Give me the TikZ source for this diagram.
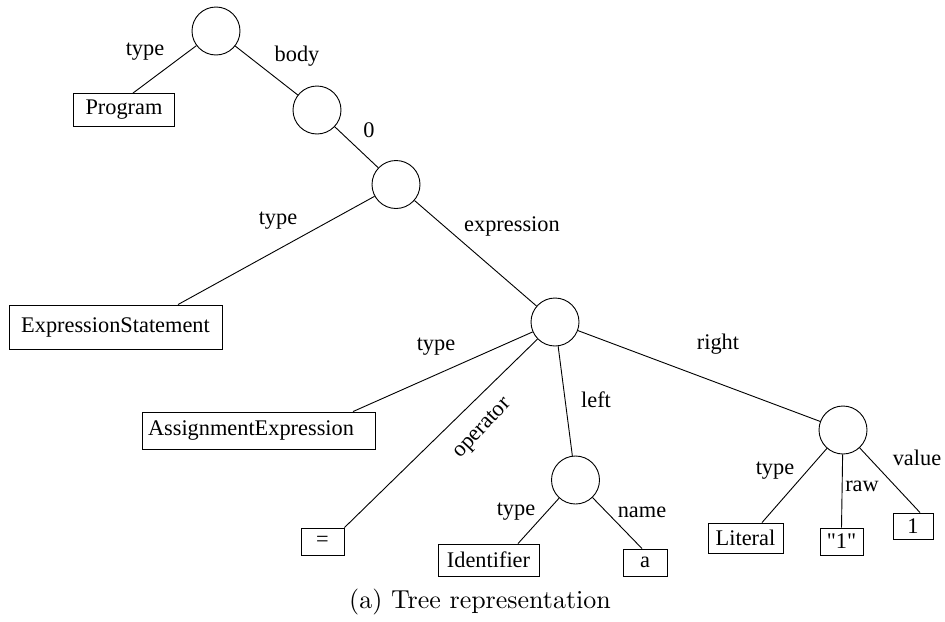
\documentclass[tikz,border=0pt]{standalone}
\usepackage{fontspec}
\newfontfamily\tnr{Liberation Serif}
\begin{document}
\begin{tikzpicture}[x=0.385pt,y=-0.385pt, line width=0.35pt,
  circ/.style={draw, circle, minimum size=48*0.385pt, inner sep=0pt},
  box/.style n args={2}{draw, minimum width=#1*0.385pt, minimum height=#2*0.385pt, inner sep=0pt, font=\tnr\fontsize{8.6}{10}\selectfont},
  lab/.style={inner sep=0pt, font=\tnr\fontsize{8.6}{10}\selectfont}]
\useasboundingbox (0,0) rectangle (945,621);
% circles
\node[circ] (c1) at (216,31) {};
\node[circ] (c2) at (317,110) {};
\node[circ] (c3) at (396,184.5) {};
\node[circ] (c4) at (555,322) {};
\node[circ] (c5) at (575.5,480) {};
\node[circ] (c6) at (843,430) {};
% boxes
\node[box={101}{33}] (prog) at (124,110) {Program};
\node[box={213}{44}] (es) at (115.5,327) {ExpressionStatement};
\node[draw, inner sep=0pt, inner xsep=6*0.385pt, text width=221*0.385pt, align=left, minimum height=37*0.385pt, font=\tnr\fontsize{8.6}{10}\selectfont] (ae) at (258.5,430.5) {AssignmentExpression};
\node[box={43}{27}] (eq) at (322.5,541.5) {=};
\node[box={101}{32}] (id) at (488.5,560) {Identifier};
\node[box={44}{27}] (na) at (645,562.5) {a};
\node[box={75}{30}] (lit) at (745.5,538) {Literal};
\node[box={43}{27}] (raw) at (841.5,541.5) {"1"};
\node[box={40}{26}] (val) at (913,526) {1};
% edges
\draw (c1) -- ([xshift=9*0.385pt]prog.north);
\draw (c1) -- (c2);
\draw (c2) -- (c3);
\draw (c3) -- ([xshift=62.5*0.385pt]es.north);
\draw (c3) -- (c4);
\draw (c4) -- ([xshift=94.5*0.385pt]ae.north);
\draw (c4) -- (eq.north east);
\draw (c4) -- (c5);
\draw (c4) -- (c6);
\draw (c5) -- ([xshift=29.5*0.385pt]id.north);
\draw (c5) -- ([xshift=-3*0.385pt]na.north);
\draw (c6) -- ([xshift=16.5*0.385pt]lit.north);
\draw (c6) -- (raw.north);
\draw (c6) -- ([xshift=7*0.385pt]val.north);
% labels
\node[lab] (l1) at (145,52) {type};
\node[lab] (l2) at (297,56) {body};
\node[lab] (l3) at (369,130) {0};
\node[lab] (l4) at (278,221) {type};
\node[lab] (l5) at (512,226) {expression};
\node[lab] (l6) at (436,347) {type};
\node[lab, rotate=47] (l7) at (483,429) {operator};
\node[lab] (l8) at (596,400) {left};
\node[lab] (l9) at (718,344) {right};
\node[lab] (l10) at (516,512) {type};
\node[lab] (l11) at (642,512) {name};
\node[lab] (l12) at (775,471) {type};
\node[lab] (l13) at (862,486) {raw};
\node[lab] (l14) at (917,458) {value};
% caption
\node[inner sep=0pt, font=\fontsize{10}{12}\selectfont] (cap) at (480,601.5) {(a) Tree representation};
\end{tikzpicture}
\end{document}
